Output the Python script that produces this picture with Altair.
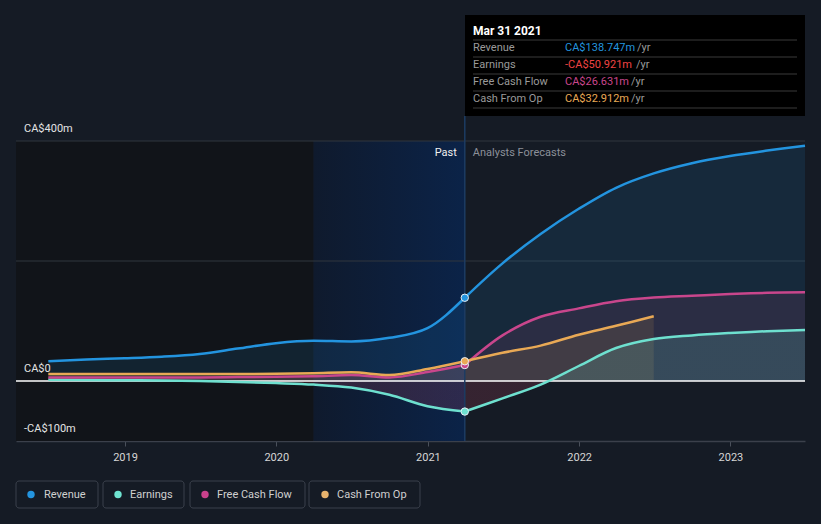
import altair as alt
import pandas as pd

# ---------------- data ----------------
dates_past = ["2018-06-30", "2018-09-30", "2018-12-31", "2019-03-31", "2019-06-30",
              "2019-09-30", "2019-12-31", "2020-03-31", "2020-06-30", "2020-09-30",
              "2020-12-31", "2021-03-31"]
dates_fc = ["2021-06-30", "2021-09-30", "2021-12-31", "2022-03-31", "2022-06-30",
            "2022-09-30", "2022-12-31", "2023-03-31", "2023-06-30"]

revenue = [33, 36, 38, 40.5, 45, 54, 63, 67, 66, 72, 88, 138.747,
           196, 245, 287, 322, 346, 363, 375, 384, 392]
earnings = [2, 1.7, 1.2, 0.8, 0, -1.5, -3.5, -6, -11, -23, -42, -50.921,
            -29, -6, 25, 55, 70, 76, 80, 83, 85]
fcf = [6, 6, 6, 6, 6, 6.5, 7, 8, 10, 6, 15, 26.631,
       76, 107, 121, 133, 139, 142, 145, 147, 148]
cashop = [11.5, 11.5, 11.5, 11.5, 11.5, 11.5, 12, 13, 14.5, 10, 20, 32.912,
          47, 59, 77, 92, 108]

series_names = ["Revenue", "Earnings", "Free Cash Flow", "Cash From Op"]
series_colors = ["#2394df", "#6ee0cf", "#c9468c", "#e9a955"]
legend_colors = ["#2394df", "#6fe3d1", "#c9418c", "#e7b26d"]

now_date = "2021-03-31"
last_year_start = "2020-03-31"
tip_title = "Mar 31 2021"
tip_values = ["CA$138.747m", "-CA$50.921m", "CA$26.631m", "CA$32.912m"]
tip_value_colors = ["#2394df", "#f04444", "#c9468c", "#e9a955"]

y_ticks = [400, 0, -100]
y_tick_labels = ["CA$400m", "CA$0", "-CA$100m"]
grid_vals = [200, 400]
year_ticks = [2019, 2020, 2021, 2022, 2023]

# ---------------- build tables ----------------
all_dates = dates_past + dates_fc
n_past = len(dates_past)
series_vals = [revenue, earnings, fcf, cashop]
frames = []
for name, vals in zip(series_names, series_vals):
    d = all_dates[:len(vals)]
    frames.append(pd.DataFrame({"date": d[:n_past], "value": vals[:n_past],
                                "series": name, "seg": "past"}))
    frames.append(pd.DataFrame({"date": d[n_past - 1:], "value": vals[n_past - 1:],
                                "series": name, "seg": "fc"}))
df = pd.concat(frames, ignore_index=True)

W, H = 789, 300
FONT = "Roboto"
INTERP = {"past": "monotone", "fc": "catmull-rom"}

x_scale = alt.Scale(type="utc", domain=[alt.DateTime(year=2018, month=4, date=13, utc=True),
                                        alt.DateTime(year=2023, month=6, date=30, utc=True)])
y_scale = alt.Scale(domain=[-100, 400], nice=False, zero=False)

AX = alt.Axis(values=[alt.DateTime(year=y, month=1, date=1, utc=True) for y in year_ticks],
              format="%Y", labelColor="#d6d6d6", labelFontSize=11, labelFont=FONT,
              domainColor="#3b404b", domainWidth=1.5, tickColor="#4a505b", tickSize=5,
              labelPadding=5, grid=False, title=None)


def xenc(field):
    return alt.X(field, scale=x_scale, axis=AX, title=None)


X = xenc("date:T")
Y = alt.Y("value:Q", scale=y_scale, axis=None, stack=None)

# background regions
reg = pd.DataFrame({"start": [last_year_start], "end": [now_date]})
dark = alt.Chart(reg).mark_rect(color="#111419").encode(
    x=xenc("start:T"), x2=alt.value(0), y=alt.value(0), y2=alt.value(H))
band = alt.Chart(reg).mark_rect(
    color=alt.Gradient(gradient="linear", x1=0, x2=1, y1=0, y2=0,
                       stops=[alt.GradientStop(color="#0f1a2d", offset=0),
                              alt.GradientStop(color="#0b2348", offset=1)])
).encode(x=xenc("start:T"), x2="end:T", y=alt.value(0), y2=alt.value(H))

grid = alt.Chart(pd.DataFrame({"v": grid_vals})).mark_rule(color="#30363f", strokeWidth=1).encode(
    y=alt.Y("v:Q", scale=y_scale, axis=None), x=alt.value(0), x2=alt.value(W))

# areas
areas = []
for name in ["Revenue", "Free Cash Flow", "Cash From Op"]:
    c = series_colors[series_names.index(name)]
    for seg in ["past", "fc"]:
        sub = df[(df.series == name) & (df.seg == seg)]
        areas.append(alt.Chart(sub).mark_area(
            color=c, fillOpacity=0.12, interpolate=INTERP[seg]).encode(x=X, y=Y, y2=alt.datum(0)))


def earn_grad(split):
    return alt.Gradient(gradient="linear", x1=0, x2=0, y1=0, y2=1,
                        stops=[alt.GradientStop(color="#6ee0cf", offset=0),
                               alt.GradientStop(color="#6ee0cf", offset=split),
                               alt.GradientStop(color="#e0506e", offset=split),
                               alt.GradientStop(color="#e0506e", offset=1)])


earn_areas = []
for seg in ["past", "fc"]:
    e = df[(df.series == "Earnings") & (df.seg == seg)]
    top = max(e.value.max(), 0)
    bot = min(e.value.min(), 0)
    earn_areas.append(alt.Chart(e).mark_area(
        interpolate=INTERP[seg], fillOpacity=0.16, color=earn_grad(top / (top - bot))).encode(
        x=X, y=Y, y2=alt.datum(0)))

zero = alt.Chart(pd.DataFrame({"v": [0]})).mark_rule(color="#ffffff", strokeWidth=1.5).encode(
    y=alt.Y("v:Q", scale=y_scale, axis=None), x=alt.value(0), x2=alt.value(W))

now_df = pd.DataFrame({"date": [now_date]})
now_rule = alt.Chart(now_df).mark_rule(color="#1d3c63", strokeWidth=1.5).encode(
    x=X, y=alt.value(-25), y2=alt.value(H))

lines = []
for name in ["Revenue", "Earnings", "Free Cash Flow", "Cash From Op"]:
    c = series_colors[series_names.index(name)]
    for seg in ["past", "fc"]:
        sub = df[(df.series == name) & (df.seg == seg)]
        lines.append(alt.Chart(sub).mark_line(
            color=c, strokeWidth=2.5, interpolate=INTERP[seg]).encode(x=X, y=Y))

pts_df = df[(df.date == now_date) & (df.seg == "past")]
points = []
for name in ["Revenue", "Earnings", "Free Cash Flow", "Cash From Op"]:
    c = series_colors[series_names.index(name)]
    points.append(alt.Chart(pts_df[pts_df.series == name]).mark_circle(
        color=c, size=55, opacity=1, stroke="#e8eef5", strokeWidth=1).encode(x=X, y=Y))

ylab = alt.Chart(pd.DataFrame({"v": y_ticks, "t": y_tick_labels})).mark_text(
    align="left", baseline="middle", dy=-12, font=FONT, fontSize=11, color="#e4e4e4").encode(
    x=alt.value(8), y=alt.Y("v:Q", scale=y_scale, axis=None), text="t:N")

past_txt = alt.Chart(now_df).mark_text(
    align="right", baseline="middle", dx=-8, font=FONT, fontSize=11, color="#f0f0f0", text="Past").encode(
    x=X, y=alt.value(12))
fc_txt = alt.Chart(now_df).mark_text(
    align="left", baseline="middle", dx=8, font=FONT, fontSize=11, color="#8c9099",
    text="Analysts Forecasts").encode(x=X, y=alt.value(12))

# tooltip box
one = pd.DataFrame({"a": [0]})
tip = [alt.Chart(one).mark_rect(color="#000000").encode(
    x=alt.value(449), x2=alt.value(789), y=alt.value(-126), y2=alt.value(-25))]
tip.append(alt.Chart(one).mark_text(align="left", baseline="middle", font=FONT, fontSize=12,
                                    fontWeight="bold", color="#ffffff", text=tip_title).encode(
    x=alt.value(457), y=alt.value(-110)))
for sy in [-101, -84, -67, -50, -33]:
    tip.append(alt.Chart(one).mark_rule(color="#3a3a3a", strokeWidth=1).encode(
        x=alt.value(457), x2=alt.value(781), y=alt.value(sy)))
row_y = [-93, -76, -59, -42]
yr_x = [621, 620, 615, 615]
for i, name in enumerate(series_names):
    tip.append(alt.Chart(one).mark_text(align="left", baseline="middle", font=FONT, fontSize=11,
                                        color="#9a9a9a", text=name).encode(
        x=alt.value(457), y=alt.value(row_y[i])))
    tip.append(alt.Chart(one).mark_text(align="left", baseline="middle", font=FONT, fontSize=11,
                                        color=tip_value_colors[i], text=tip_values[i]).encode(
        x=alt.value(549), y=alt.value(row_y[i])))
    tip.append(alt.Chart(one).mark_text(align="left", baseline="middle", font=FONT, fontSize=11,
                                        color="#9a9a9a", text="/yr").encode(
        x=alt.value(yr_x[i]), y=alt.value(row_y[i])))

# legend
box_x0 = [0, 87, 174, 293]
box_x1 = [82, 168, 289, 404]
dot_x = [15, 102, 189, 309]
txt_x = [28, 114, 201, 321]
leg = []
for i, name in enumerate(series_names):
    leg.append(alt.Chart(one).mark_rect(fill="#151b25", stroke="#3b414c", strokeWidth=1,
                                        cornerRadius=3).encode(
        x=alt.value(box_x0[i]), x2=alt.value(box_x1[i]), y=alt.value(340), y2=alt.value(367)))
    leg.append(alt.Chart(one).mark_circle(color=legend_colors[i], size=55, opacity=1).encode(
        x=alt.value(dot_x[i]), y=alt.value(353.5)))
    leg.append(alt.Chart(one).mark_text(align="left", baseline="middle", font=FONT, fontSize=11,
                                        color="#d0d0d0", text=name).encode(
        x=alt.value(txt_x[i]), y=alt.value(353.5)))

chart = alt.layer(
    dark, band, grid, *areas, *earn_areas, zero, now_rule, *lines, *points,
    ylab, past_txt, fc_txt, *tip, *leg
).properties(
    width=W, height=H, background="#151b25",
    padding={"left": 16, "top": 141, "right": 16, "bottom": 83},
    autosize="none"
).configure_view(stroke=None)

chart.save("out.html", embed_options={"renderer": "svg", "actions": False})
